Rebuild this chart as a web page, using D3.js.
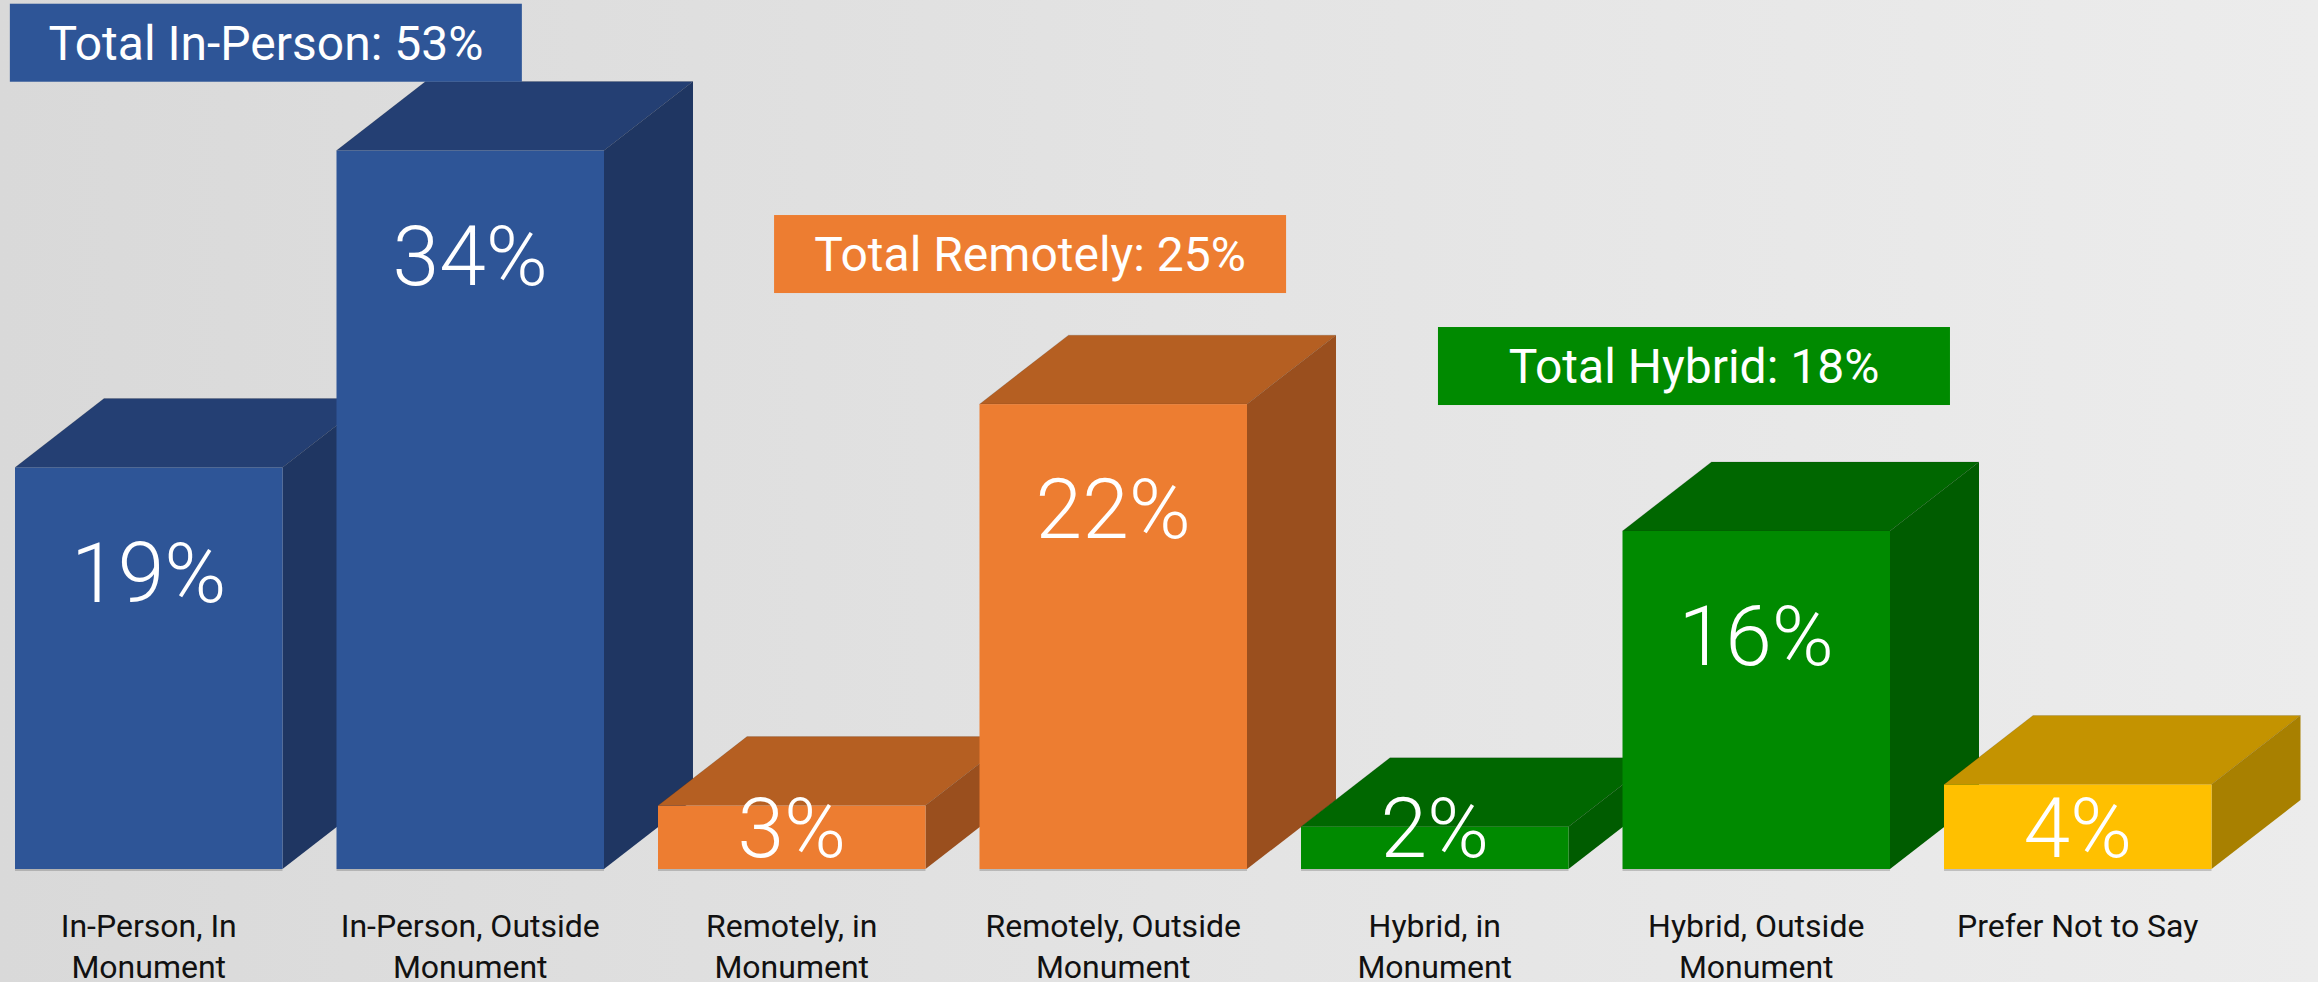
<!DOCTYPE html>
<html>
<head>
<meta charset="utf-8">
<script src="https://cdn.jsdelivr.net/npm/d3@7"></script>
<style>
  html, body { margin: 0; padding: 0; overflow: hidden; }
  svg { display: block; }
</style>
</head>
<body>
<div id="chart"></div>
<script>
const width = 2318;
const height = 982;

// data
const categories = [
    "In-Person, In Monument",
    "In-Person, Outside Monument",
    "Remotely, in Monument",
    "Remotely, Outside Monument",
    "Hybrid, in Monument",
    "Hybrid, Outside Monument",
    "Prefer Not to Say"
];
const values = [19, 34, 3, 22, 2, 16, 4];
const groups = ["inPerson", "inPerson", "remote", "remote", "hybrid", "hybrid", "none"];

const totalLabels = ["Total In-Person: 53%", "Total Remotely: 25%", "Total Hybrid: 18%"];
const totalGroups = ["inPerson", "remote", "hybrid"];

// colours per group: front / top / side
const palette = {
    inPerson: { front: "#2E5597", top: "#243F73", side: "#1F3662" },
    remote:   { front: "#ED7D31", top: "#B55F22", side: "#9A4F1E" },
    hybrid:   { front: "#008A00", top: "#006700", side: "#005C00" },
    none:     { front: "#FFC000", top: "#C49300", side: "#A88000" }
};

// layout
const baseY = 869;
const depthX = 89;
const depthY = 69;
const boxW = 512;
const boxH = 78;
// where the total boxes sit: anchor bar index, offset in steps, top in % units
const totalAnchors = [
    { bar: 0, shift: -0.016, top: 40.95 },
    { bar: 2, shift: 0.361, top: 30.95 },
    { bar: 4, shift: 0.426, top: 25.65 }
];

const svg = d3.select("#chart").append("svg")
    .attr("width", width)
    .attr("height", height);

const defs = svg.append("defs");
const bg = defs.append("linearGradient")
    .attr("id", "bg")
    .attr("x1", "0%").attr("y1", "0%")
    .attr("x2", "100%").attr("y2", "0%");
bg.append("stop").attr("offset", "0%").attr("stop-color", "#d9d9d9");
bg.append("stop").attr("offset", "55%").attr("stop-color", "#e4e4e4");
bg.append("stop").attr("offset", "100%").attr("stop-color", "#ececec");

svg.append("rect")
    .attr("width", width)
    .attr("height", height)
    .attr("fill", "url(#bg)");

const x = d3.scaleBand()
    .domain(categories)
    .range([15, 2211.5])
    .paddingInner(0.168)
    .paddingOuter(0);

const y = d3.scaleLinear()
    .domain([0, 40])
    .range([baseY, baseY - 40 * 21.13]);

const bars = categories.map((c, i) => ({ cat: c, value: values[i], group: groups[i] }));

const barG = svg.append("g").attr("class", "bars");

bars.forEach(d => {
    const x0 = x(d.cat);
    const x1 = x0 + x.bandwidth();
    const yt = y(d.value);
    const c = palette[d.group];
    const g = barG.append("g");

    // side face
    g.append("polygon")
        .attr("points", [[x1, yt], [x1 + depthX, yt - depthY], [x1 + depthX, baseY - depthY], [x1, baseY]].join(" "))
        .attr("fill", c.side);

    // top face
    g.append("polygon")
        .attr("points", [[x0, yt], [x0 + depthX, yt - depthY], [x1 + depthX, yt - depthY], [x1, yt]].join(" "))
        .attr("fill", c.top)
        .attr("stroke", "rgba(0,0,0,0.12)")
        .attr("stroke-width", 1);

    // front face
    g.append("rect")
        .attr("x", x0)
        .attr("y", yt)
        .attr("width", x.bandwidth())
        .attr("height", baseY - yt)
        .attr("fill", c.front);

    g.append("line")
        .attr("x1", x0).attr("x2", x1)
        .attr("y1", baseY + 1).attr("y2", baseY + 1)
        .attr("stroke", "rgba(0,0,0,0.18)")
        .attr("stroke-width", 2);
});

// value labels
svg.append("g")
    .selectAll("text")
    .data(bars)
    .enter().append("text")
    .attr("x", d => x(d.cat) + x.bandwidth() / 2)
    .attr("y", d => Math.min(y(d.value) + 134, baseY - 12))
    .attr("text-anchor", "middle")
    .attr("fill", "#fff")
    .style("font-family", "Roboto, 'Open Sans', sans-serif")
    .style("font-weight", 300)
    .style("font-size", "84px")
    .text(d => d.value + "%");

// category labels
const catLabels = svg.append("g")
    .selectAll("text")
    .data(bars)
    .enter().append("text")
    .attr("x", d => x(d.cat) + x.bandwidth() / 2)
    .attr("y", 937)
    .attr("text-anchor", "middle")
    .attr("fill", "#111")
    .style("font-family", "Roboto, 'Open Sans', sans-serif")
    .style("font-size", "32px")
    .text(d => d.cat);

catLabels.each(function () {
    wrap(d3.select(this), 290, 41);
});

// totals
const step = x.step();
totalLabels.forEach((t, i) => {
    const a = totalAnchors[i];
    const bx = x(categories[a.bar]) + a.shift * step;
    const by = y(a.top);
    const g = svg.append("g");
    g.append("rect")
        .attr("x", bx)
        .attr("y", by)
        .attr("width", boxW)
        .attr("height", boxH)
        .attr("fill", palette[totalGroups[i]].front);
    g.append("text")
        .attr("x", bx + boxW / 2)
        .attr("y", by + boxH / 2 + 17)
        .attr("text-anchor", "middle")
        .attr("fill", "#fff")
        .style("font-family", "Roboto, 'Open Sans', sans-serif")
        .style("font-size", "48px")
        .text(t);
});

function wrap(text, maxWidth, lineHeight) {
    const words = text.text().split(/\s+/);
    const x0 = text.attr("x");
    const y0 = text.attr("y");
    text.text(null);
    let line = [];
    let tspan = text.append("tspan").attr("x", x0).attr("y", y0);
    let lineNo = 0;
    words.forEach(w => {
        line.push(w);
        tspan.text(line.join(" "));
        if (tspan.node().getComputedTextLength() > maxWidth && line.length > 1) {
            line.pop();
            tspan.text(line.join(" "));
            line = [w];
            lineNo++;
            tspan = text.append("tspan")
                .attr("x", x0)
                .attr("y", +y0 + lineNo * lineHeight)
                .text(w);
        }
    });
}
</script>
</body>
</html>
